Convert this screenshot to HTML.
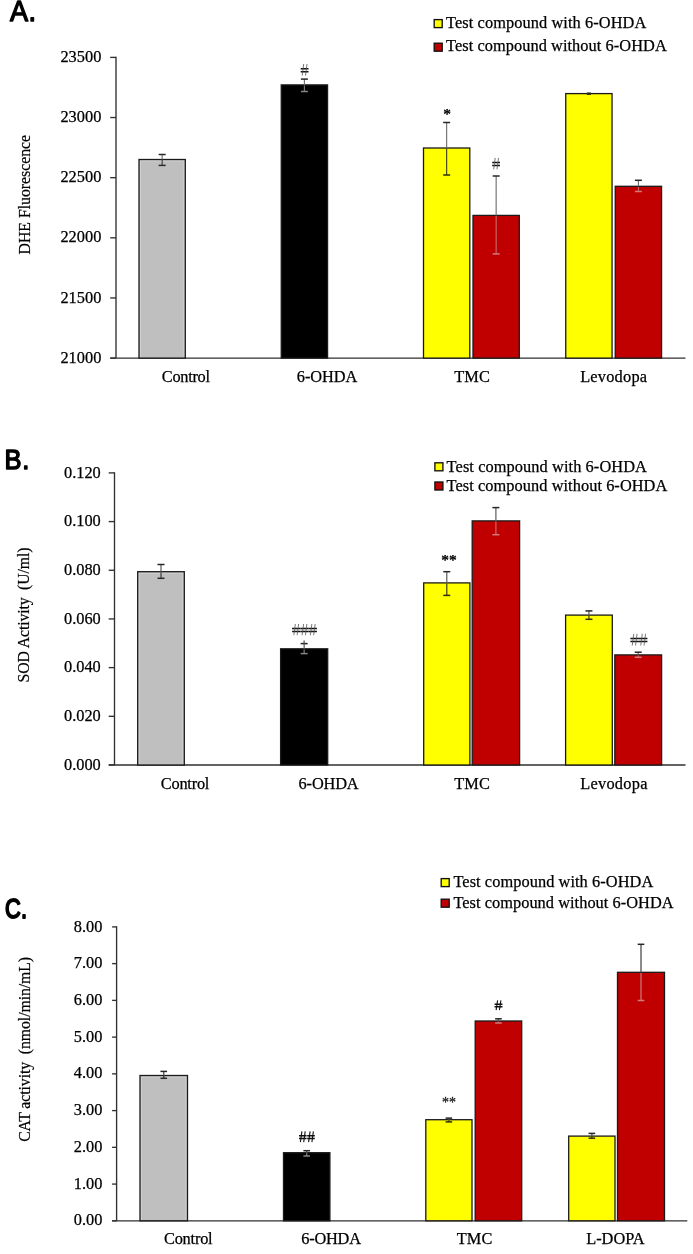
<!DOCTYPE html>
<html><head><meta charset="utf-8"><title>Figure</title>
<style>
html,body{margin:0;padding:0;background:#fff;}
body{width:693px;height:1254px;overflow:hidden;font-family:"Liberation Serif",serif;}
svg{display:block;will-change:transform;}
text{fill:#000;font-family:"Liberation Serif",serif;}
text.ttl{font-family:"Liberation Sans",sans-serif;}
</style></head><body>
<svg width="693" height="1254" viewBox="0 0 693 1254">
<rect width="693" height="1254" fill="#fff"/>
<text transform="translate(9.90 20.60) scale(0.94 1)" font-size="28.8" class="ttl" stroke="#000" stroke-width="1.4" stroke-linejoin="round" letter-spacing="0.6">A.</text>
<path d="M116 56.80V358.1M110.2 358.1H685.5" stroke="#303030" stroke-width="1.35" fill="none"/>
<path d="M110.2 57.40H116" stroke="#303030" stroke-width="1.35"/>
<text x="101.30" y="62.00" font-size="16.35" text-anchor="end" font-weight="normal" fill="#000" stroke="#000" stroke-width="0.25">23500</text>
<path d="M110.2 117.54H116" stroke="#303030" stroke-width="1.35"/>
<text x="101.30" y="122.14" font-size="16.35" text-anchor="end" font-weight="normal" fill="#000" stroke="#000" stroke-width="0.25">23000</text>
<path d="M110.2 177.68H116" stroke="#303030" stroke-width="1.35"/>
<text x="101.30" y="182.28" font-size="16.35" text-anchor="end" font-weight="normal" fill="#000" stroke="#000" stroke-width="0.25">22500</text>
<path d="M110.2 237.82H116" stroke="#303030" stroke-width="1.35"/>
<text x="101.30" y="242.42" font-size="16.35" text-anchor="end" font-weight="normal" fill="#000" stroke="#000" stroke-width="0.25">22000</text>
<path d="M110.2 297.96H116" stroke="#303030" stroke-width="1.35"/>
<text x="101.30" y="302.56" font-size="16.35" text-anchor="end" font-weight="normal" fill="#000" stroke="#000" stroke-width="0.25">21500</text>
<path d="M110.2 358.10H116" stroke="#303030" stroke-width="1.35"/>
<text x="101.30" y="362.70" font-size="16.35" text-anchor="end" font-weight="normal" fill="#000" stroke="#000" stroke-width="0.25">21000</text>
<text transform="translate(29.60 194.70) rotate(-90) scale(1 1.07)" font-size="15.8" text-anchor="middle" stroke="#000" stroke-width="0.2" textLength="119.6" lengthAdjust="spacing">DHE Fluorescence</text>
<rect x="139.00" y="159.50" width="46.30" height="198.60" fill="#BFBFBF"/>
<path d="M140.40 357.10V160.90H183.90V357.10" fill="none" stroke="#d2d2d2" stroke-width="1"/>
<rect x="139.00" y="159.50" width="46.30" height="198.60" fill="none" stroke="#1a1a1a" stroke-width="1.3"/>
<rect x="281.25" y="84.90" width="46.30" height="273.20" fill="#000000" stroke="#1a1a1a" stroke-width="1.3"/>
<rect x="423.50" y="148.00" width="46.30" height="210.10" fill="#FFFF00" stroke="#1a1a1a" stroke-width="1.3"/>
<rect x="473.00" y="215.40" width="46.30" height="142.70" fill="#C00000" stroke="#1a1a1a" stroke-width="1.3"/>
<rect x="565.75" y="93.60" width="46.30" height="264.50" fill="#FFFF00" stroke="#1a1a1a" stroke-width="1.3"/>
<rect x="615.25" y="186.30" width="46.30" height="171.80" fill="#C00000" stroke="#1a1a1a" stroke-width="1.3"/>
<path d="M162.15 154.50V159.50" stroke="#6a6a6a" stroke-width="1.1" fill="none"/>
<path d="M158.65 154.50h7" stroke="#262626" stroke-width="1.5" fill="none"/>
<path d="M162.15 160.10V165.40" stroke="#3c3c3c" stroke-width="1.1" fill="none"/>
<path d="M158.65 165.40h7" stroke="#2a2a2a" stroke-width="1.5" fill="none"/>
<path d="M304.40 79.10V84.90" stroke="#6a6a6a" stroke-width="1.1" fill="none"/>
<path d="M300.90 79.10h7" stroke="#262626" stroke-width="1.5" fill="none"/>
<path d="M304.40 85.50V91.50" stroke="#7e7e7e" stroke-width="1.1" fill="none"/>
<path d="M300.90 91.50h7" stroke="#858585" stroke-width="1.5" fill="none"/>
<path d="M446.65 122.50V148.00" stroke="#6a6a6a" stroke-width="1.1" fill="none"/>
<path d="M443.15 122.50h7" stroke="#262626" stroke-width="1.5" fill="none"/>
<path d="M446.65 148.60V175.00" stroke="#3a3a10" stroke-width="1.1" fill="none"/>
<path d="M443.15 175.00h7" stroke="#2e2e10" stroke-width="1.5" fill="none"/>
<path d="M496.15 176.00V215.40" stroke="#6a6a6a" stroke-width="1.1" fill="none"/>
<path d="M492.65 176.00h7" stroke="#262626" stroke-width="1.5" fill="none"/>
<path d="M496.15 216.00V253.90" stroke="#c86a6a" stroke-width="1.1" fill="none"/>
<path d="M492.65 253.90h7" stroke="#d07a7a" stroke-width="1.5" fill="none"/>
<path d="M588.90 93.20V93.60" stroke="#6a6a6a" stroke-width="1.1" fill="none"/>
<path d="M586.90 93.20h4" stroke="#262626" stroke-width="1.5" fill="none"/>
<path d="M588.90 94.20V94.20" stroke="#3a3a10" stroke-width="1.1" fill="none"/>
<path d="M586.90 94.20h4" stroke="#2e2e10" stroke-width="1.5" fill="none"/>
<path d="M638.40 180.30V186.30" stroke="#6a6a6a" stroke-width="1.1" fill="none"/>
<path d="M634.90 180.30h7" stroke="#262626" stroke-width="1.5" fill="none"/>
<path d="M638.40 186.90V191.50" stroke="#c86a6a" stroke-width="1.1" fill="none"/>
<path d="M634.90 191.50h7" stroke="#d07a7a" stroke-width="1.5" fill="none"/>
<path d="M300.70 68.64h7.8M300.70 71.66h7.8" stroke="#111" stroke-width="1.5" fill="none"/>
<path d="M302.20 75.60L303.70 64.00M305.50 75.60L307.00 64.00" stroke="#555" stroke-width="0.8" fill="none"/>
<text x="447.00" y="119.00" font-size="15.5" text-anchor="middle" font-weight="bold" fill="#000" stroke="#000" stroke-width="0.2">*</text>
<path d="M492.20 162.46h7.8M492.20 165.42h7.8" stroke="#111" stroke-width="1.5" fill="none"/>
<path d="M493.70 169.30L495.20 157.90M497.00 169.30L498.50 157.90" stroke="#555" stroke-width="0.8" fill="none"/>
<text x="185.90" y="382.00" font-size="16.35" text-anchor="middle" font-weight="normal" fill="#000" stroke="#000" stroke-width="0.25" textLength="48.2" lengthAdjust="spacing">Control</text>
<text x="327.00" y="382.00" font-size="16.35" text-anchor="middle" font-weight="normal" fill="#000" stroke="#000" stroke-width="0.25" textLength="60.4" lengthAdjust="spacing">6-OHDA</text>
<text x="472.10" y="382.00" font-size="16.35" text-anchor="middle" font-weight="normal" fill="#000" stroke="#000" stroke-width="0.25" textLength="35.6" lengthAdjust="spacing">TMC</text>
<text x="613.60" y="382.00" font-size="16.35" text-anchor="middle" font-weight="normal" fill="#000" stroke="#000" stroke-width="0.25" textLength="66.9" lengthAdjust="spacing">Levodopa</text>
<rect x="434.20" y="19.60" width="8" height="8" fill="#FFFF00" stroke="#111" stroke-width="1.35"/>
<rect x="434.20" y="43.20" width="8" height="8" fill="#C00000" stroke="#111" stroke-width="1.35"/>
<text x="446.00" y="27.70" font-size="16.35" text-anchor="start" font-weight="normal" fill="#000" stroke="#000" stroke-width="0.25" textLength="200.3" lengthAdjust="spacing">Test compound with 6-OHDA</text>
<text x="446.00" y="51.30" font-size="16.35" text-anchor="start" font-weight="normal" fill="#000" stroke="#000" stroke-width="0.25" textLength="220.7" lengthAdjust="spacing">Test compound without 6-OHDA</text>
<text transform="translate(4.60 468.80) scale(0.9 1)" font-size="28.4" class="ttl" stroke="#000" stroke-width="1.5" stroke-linejoin="round" letter-spacing="0.6">B.</text>
<path d="M114.5 472.30V765.0M108.7 765.0H685.5" stroke="#303030" stroke-width="1.35" fill="none"/>
<path d="M108.7 472.90H114.5" stroke="#303030" stroke-width="1.35"/>
<text x="100.80" y="477.50" font-size="16.35" text-anchor="end" font-weight="normal" fill="#000" stroke="#000" stroke-width="0.25">0.120</text>
<path d="M108.7 521.58H114.5" stroke="#303030" stroke-width="1.35"/>
<text x="100.80" y="526.18" font-size="16.35" text-anchor="end" font-weight="normal" fill="#000" stroke="#000" stroke-width="0.25">0.100</text>
<path d="M108.7 570.26H114.5" stroke="#303030" stroke-width="1.35"/>
<text x="100.80" y="574.86" font-size="16.35" text-anchor="end" font-weight="normal" fill="#000" stroke="#000" stroke-width="0.25">0.080</text>
<path d="M108.7 618.94H114.5" stroke="#303030" stroke-width="1.35"/>
<text x="100.80" y="623.54" font-size="16.35" text-anchor="end" font-weight="normal" fill="#000" stroke="#000" stroke-width="0.25">0.060</text>
<path d="M108.7 667.62H114.5" stroke="#303030" stroke-width="1.35"/>
<text x="100.80" y="672.22" font-size="16.35" text-anchor="end" font-weight="normal" fill="#000" stroke="#000" stroke-width="0.25">0.040</text>
<path d="M108.7 716.30H114.5" stroke="#303030" stroke-width="1.35"/>
<text x="100.80" y="720.90" font-size="16.35" text-anchor="end" font-weight="normal" fill="#000" stroke="#000" stroke-width="0.25">0.020</text>
<path d="M108.7 764.98H114.5" stroke="#303030" stroke-width="1.35"/>
<text x="100.80" y="769.58" font-size="16.35" text-anchor="end" font-weight="normal" fill="#000" stroke="#000" stroke-width="0.25">0.000</text>
<text transform="translate(29.40 615.00) rotate(-90) scale(1 1.07)" font-size="15.8" text-anchor="middle" stroke="#000" stroke-width="0.2" textLength="135" lengthAdjust="spacing">SOD Activity&#160;&#160;(U/ml)</text>
<rect x="137.70" y="571.70" width="46.60" height="193.30" fill="#BFBFBF"/>
<path d="M139.10 764.00V573.10H182.90V764.00" fill="none" stroke="#d2d2d2" stroke-width="1"/>
<rect x="137.70" y="571.70" width="46.60" height="193.30" fill="none" stroke="#1a1a1a" stroke-width="1.3"/>
<rect x="280.60" y="648.80" width="47.10" height="116.20" fill="#000000" stroke="#1a1a1a" stroke-width="1.3"/>
<rect x="423.70" y="582.90" width="46.20" height="182.10" fill="#FFFF00" stroke="#1a1a1a" stroke-width="1.3"/>
<rect x="472.20" y="520.90" width="47.40" height="244.10" fill="#C00000" stroke="#1a1a1a" stroke-width="1.3"/>
<rect x="565.60" y="615.10" width="46.70" height="149.90" fill="#FFFF00" stroke="#1a1a1a" stroke-width="1.3"/>
<rect x="614.80" y="654.90" width="46.80" height="110.10" fill="#C00000" stroke="#1a1a1a" stroke-width="1.3"/>
<path d="M161.00 564.50V571.70" stroke="#5a5a5a" stroke-width="1.2" fill="none"/>
<path d="M157.50 564.50h7.0" stroke="#262626" stroke-width="1.5" fill="none"/>
<path d="M161.00 572.30V578.30" stroke="#3c3c3c" stroke-width="1.2" fill="none"/>
<path d="M157.50 578.30h7.0" stroke="#2a2a2a" stroke-width="1.5" fill="none"/>
<path d="M304.15 643.60V648.80" stroke="#5a5a5a" stroke-width="1.2" fill="none"/>
<path d="M300.65 643.60h7.0" stroke="#262626" stroke-width="1.5" fill="none"/>
<path d="M304.15 649.40V653.60" stroke="#7e7e7e" stroke-width="1.2" fill="none"/>
<path d="M300.65 653.60h7.0" stroke="#858585" stroke-width="1.5" fill="none"/>
<path d="M446.80 571.70V582.90" stroke="#5a5a5a" stroke-width="1.2" fill="none"/>
<path d="M443.30 571.70h7.0" stroke="#262626" stroke-width="1.5" fill="none"/>
<path d="M446.80 583.50V595.40" stroke="#3a3a10" stroke-width="1.2" fill="none"/>
<path d="M443.30 595.40h7.0" stroke="#2e2e10" stroke-width="1.5" fill="none"/>
<path d="M495.90 507.60V520.90" stroke="#5a5a5a" stroke-width="1.2" fill="none"/>
<path d="M492.40 507.60h7.0" stroke="#262626" stroke-width="1.5" fill="none"/>
<path d="M495.90 521.50V534.70" stroke="#c86a6a" stroke-width="1.2" fill="none"/>
<path d="M492.40 534.70h7.0" stroke="#d07a7a" stroke-width="1.5" fill="none"/>
<path d="M588.95 610.90V615.10" stroke="#5a5a5a" stroke-width="1.2" fill="none"/>
<path d="M585.45 610.90h7.0" stroke="#262626" stroke-width="1.5" fill="none"/>
<path d="M588.95 615.70V619.30" stroke="#3a3a10" stroke-width="1.2" fill="none"/>
<path d="M585.45 619.30h7.0" stroke="#2e2e10" stroke-width="1.5" fill="none"/>
<path d="M638.20 652.20V654.90" stroke="#5a5a5a" stroke-width="1.2" fill="none"/>
<path d="M634.70 652.20h7.0" stroke="#262626" stroke-width="1.5" fill="none"/>
<path d="M638.20 655.50V657.30" stroke="#c86a6a" stroke-width="1.2" fill="none"/>
<path d="M634.70 657.30h7.0" stroke="#d07a7a" stroke-width="1.5" fill="none"/>
<path d="M304.1 640.5V644" stroke="#4a4a4a" stroke-width="1.2"/>
<path d="M292.10 628.48h8.27M292.10 631.39h8.27" stroke="#111" stroke-width="1.5" fill="none"/>
<path d="M293.83 635.20L295.33 624.00M297.13 635.20L298.63 624.00" stroke="#555" stroke-width="0.8" fill="none"/>
<path d="M300.37 628.48h8.27M300.37 631.39h8.27" stroke="#111" stroke-width="1.5" fill="none"/>
<path d="M302.10 635.20L303.60 624.00M305.40 635.20L306.90 624.00" stroke="#555" stroke-width="0.8" fill="none"/>
<path d="M308.64 628.48h8.27M308.64 631.39h8.27" stroke="#111" stroke-width="1.5" fill="none"/>
<path d="M310.37 635.20L311.87 624.00M313.67 635.20L315.17 624.00" stroke="#555" stroke-width="0.8" fill="none"/>
<text x="449.00" y="565.00" font-size="15.5" text-anchor="middle" font-weight="bold" fill="#000" stroke="#000" stroke-width="0.2">**</text>
<path d="M630.40 638.48h8.5M630.40 641.52h8.5" stroke="#111" stroke-width="1.5" fill="none"/>
<path d="M632.25 645.50L633.75 633.80M635.55 645.50L637.05 633.80" stroke="#555" stroke-width="0.8" fill="none"/>
<path d="M638.90 638.48h8.5M638.90 641.52h8.5" stroke="#111" stroke-width="1.5" fill="none"/>
<path d="M640.75 645.50L642.25 633.80M644.05 645.50L645.55 633.80" stroke="#555" stroke-width="0.8" fill="none"/>
<text x="185.10" y="789.10" font-size="16.35" text-anchor="middle" font-weight="normal" fill="#000" stroke="#000" stroke-width="0.25" textLength="48.5" lengthAdjust="spacing">Control</text>
<text x="328.60" y="789.10" font-size="16.35" text-anchor="middle" font-weight="normal" fill="#000" stroke="#000" stroke-width="0.25" textLength="60.0" lengthAdjust="spacing">6-OHDA</text>
<text x="472.10" y="789.10" font-size="16.35" text-anchor="middle" font-weight="normal" fill="#000" stroke="#000" stroke-width="0.25" textLength="35.6" lengthAdjust="spacing">TMC</text>
<text x="613.80" y="789.10" font-size="16.35" text-anchor="middle" font-weight="normal" fill="#000" stroke="#000" stroke-width="0.25" textLength="67.3" lengthAdjust="spacing">Levodopa</text>
<rect x="434.90" y="462.80" width="8" height="8" fill="#FFFF00" stroke="#111" stroke-width="1.35"/>
<rect x="434.90" y="482.00" width="8" height="8" fill="#C00000" stroke="#111" stroke-width="1.35"/>
<text x="446.60" y="471.60" font-size="16.35" text-anchor="start" font-weight="normal" fill="#000" stroke="#000" stroke-width="0.25" textLength="200.3" lengthAdjust="spacing">Test compound with 6-OHDA</text>
<text x="446.60" y="490.60" font-size="16.35" text-anchor="start" font-weight="normal" fill="#000" stroke="#000" stroke-width="0.25" textLength="220.7" lengthAdjust="spacing">Test compound without 6-OHDA</text>
<text transform="translate(4.90 917.60) scale(0.79 1)" font-size="27.6" class="ttl" stroke="#000" stroke-width="1.9" stroke-linejoin="round" letter-spacing="0.6">C.</text>
<path d="M116.6 926.30V1220.8M112.1 1220.8H687.3" stroke="#303030" stroke-width="1.35" fill="none"/>
<path d="M112.1 926.90H116.6" stroke="#303030" stroke-width="1.35"/>
<text x="102.40" y="931.50" font-size="16.35" text-anchor="end" font-weight="normal" fill="#000" stroke="#000" stroke-width="0.25">8.00</text>
<path d="M112.1 963.64H116.6" stroke="#303030" stroke-width="1.35"/>
<text x="102.40" y="968.24" font-size="16.35" text-anchor="end" font-weight="normal" fill="#000" stroke="#000" stroke-width="0.25">7.00</text>
<path d="M112.1 1000.38H116.6" stroke="#303030" stroke-width="1.35"/>
<text x="102.40" y="1004.98" font-size="16.35" text-anchor="end" font-weight="normal" fill="#000" stroke="#000" stroke-width="0.25">6.00</text>
<path d="M112.1 1037.12H116.6" stroke="#303030" stroke-width="1.35"/>
<text x="102.40" y="1041.72" font-size="16.35" text-anchor="end" font-weight="normal" fill="#000" stroke="#000" stroke-width="0.25">5.00</text>
<path d="M112.1 1073.86H116.6" stroke="#303030" stroke-width="1.35"/>
<text x="102.40" y="1078.46" font-size="16.35" text-anchor="end" font-weight="normal" fill="#000" stroke="#000" stroke-width="0.25">4.00</text>
<path d="M112.1 1110.60H116.6" stroke="#303030" stroke-width="1.35"/>
<text x="102.40" y="1115.20" font-size="16.35" text-anchor="end" font-weight="normal" fill="#000" stroke="#000" stroke-width="0.25">3.00</text>
<path d="M112.1 1147.34H116.6" stroke="#303030" stroke-width="1.35"/>
<text x="102.40" y="1151.94" font-size="16.35" text-anchor="end" font-weight="normal" fill="#000" stroke="#000" stroke-width="0.25">2.00</text>
<path d="M112.1 1184.08H116.6" stroke="#303030" stroke-width="1.35"/>
<text x="102.40" y="1188.68" font-size="16.35" text-anchor="end" font-weight="normal" fill="#000" stroke="#000" stroke-width="0.25">1.00</text>
<path d="M112.1 1220.82H116.6" stroke="#303030" stroke-width="1.35"/>
<text x="102.40" y="1225.42" font-size="16.35" text-anchor="end" font-weight="normal" fill="#000" stroke="#000" stroke-width="0.25">0.00</text>
<text transform="translate(29.50 1049.35) rotate(-90) scale(1 1.07)" font-size="15.8" text-anchor="middle" stroke="#000" stroke-width="0.2" textLength="185" lengthAdjust="spacing">CAT activity&#160;&#160;(nmol/min/mL)</text>
<rect x="140.00" y="1075.50" width="47.50" height="145.30" fill="#BFBFBF"/>
<path d="M141.40 1219.80V1076.90H186.10V1219.80" fill="none" stroke="#d2d2d2" stroke-width="1"/>
<rect x="140.00" y="1075.50" width="47.50" height="145.30" fill="none" stroke="#1a1a1a" stroke-width="1.3"/>
<rect x="283.50" y="1152.70" width="46.40" height="68.10" fill="#000000" stroke="#1a1a1a" stroke-width="1.3"/>
<rect x="425.80" y="1119.70" width="46.20" height="101.10" fill="#FFFF00" stroke="#1a1a1a" stroke-width="1.3"/>
<rect x="475.20" y="1021.00" width="46.50" height="199.80" fill="#C00000" stroke="#1a1a1a" stroke-width="1.3"/>
<rect x="568.70" y="1136.10" width="46.30" height="84.70" fill="#FFFF00" stroke="#1a1a1a" stroke-width="1.3"/>
<rect x="617.50" y="972.30" width="47.00" height="248.50" fill="#C00000" stroke="#1a1a1a" stroke-width="1.3"/>
<path d="M163.75 1071.40V1075.50" stroke="#5a5a5a" stroke-width="1.4" fill="none"/>
<path d="M160.45 1071.40h6.6" stroke="#262626" stroke-width="1.5" fill="none"/>
<path d="M163.75 1076.10V1078.30" stroke="#3c3c3c" stroke-width="1.4" fill="none"/>
<path d="M160.45 1078.30h6.6" stroke="#2a2a2a" stroke-width="1.5" fill="none"/>
<path d="M306.70 1150.70V1152.70" stroke="#5a5a5a" stroke-width="1.4" fill="none"/>
<path d="M303.40 1150.70h6.6" stroke="#262626" stroke-width="1.5" fill="none"/>
<path d="M306.70 1153.30V1156.00" stroke="#7e7e7e" stroke-width="1.4" fill="none"/>
<path d="M303.40 1156.00h6.6" stroke="#858585" stroke-width="1.5" fill="none"/>
<path d="M448.90 1118.10V1119.70" stroke="#5a5a5a" stroke-width="1.4" fill="none"/>
<path d="M445.60 1118.10h6.6" stroke="#262626" stroke-width="1.5" fill="none"/>
<path d="M448.90 1120.30V1121.90" stroke="#3a3a10" stroke-width="1.4" fill="none"/>
<path d="M445.60 1121.90h6.6" stroke="#2e2e10" stroke-width="1.5" fill="none"/>
<path d="M498.45 1018.80V1021.00" stroke="#5a5a5a" stroke-width="1.4" fill="none"/>
<path d="M495.15 1018.80h6.6" stroke="#262626" stroke-width="1.5" fill="none"/>
<path d="M498.45 1021.60V1023.00" stroke="#c86a6a" stroke-width="1.4" fill="none"/>
<path d="M495.15 1023.00h6.6" stroke="#d07a7a" stroke-width="1.5" fill="none"/>
<path d="M591.85 1133.40V1136.10" stroke="#5a5a5a" stroke-width="1.4" fill="none"/>
<path d="M588.55 1133.40h6.6" stroke="#262626" stroke-width="1.5" fill="none"/>
<path d="M591.85 1136.70V1138.20" stroke="#3a3a10" stroke-width="1.4" fill="none"/>
<path d="M588.55 1138.20h6.6" stroke="#2e2e10" stroke-width="1.5" fill="none"/>
<path d="M641.00 944.30V972.30" stroke="#5a5a5a" stroke-width="1.4" fill="none"/>
<path d="M637.70 944.30h6.6" stroke="#262626" stroke-width="1.5" fill="none"/>
<path d="M641.00 972.90V1000.50" stroke="#c86a6a" stroke-width="1.4" fill="none"/>
<path d="M637.70 1000.50h6.6" stroke="#d07a7a" stroke-width="1.5" fill="none"/>
<path d="M299.00 1135.68h7.6M299.00 1138.46h7.6" stroke="#111" stroke-width="1.5" fill="none"/>
<path d="M300.40 1142.10L301.90 1131.40M303.70 1142.10L305.20 1131.40" stroke="#111" stroke-width="1.1" fill="none"/>
<path d="M307.20 1135.68h7.6M307.20 1138.46h7.6" stroke="#111" stroke-width="1.5" fill="none"/>
<path d="M308.60 1142.10L310.10 1131.40M311.90 1142.10L313.40 1131.40" stroke="#111" stroke-width="1.1" fill="none"/>
<text x="448.90" y="1107.30" font-size="14" text-anchor="middle" font-weight="normal" fill="#333" stroke="#333" stroke-width="0.3">**</text>
<path d="M494.55 1004.28h7.9M494.55 1006.80h7.9" stroke="#111" stroke-width="1.5" fill="none"/>
<path d="M496.10 1010.10L497.60 1000.40M499.40 1010.10L500.90 1000.40" stroke="#111" stroke-width="1.1" fill="none"/>
<text x="188.30" y="1244.40" font-size="16.35" text-anchor="middle" font-weight="normal" fill="#000" stroke="#000" stroke-width="0.25" textLength="48.7" lengthAdjust="spacing">Control</text>
<text x="331.10" y="1244.40" font-size="16.35" text-anchor="middle" font-weight="normal" fill="#000" stroke="#000" stroke-width="0.25" textLength="59.9" lengthAdjust="spacing">6-OHDA</text>
<text x="474.60" y="1244.40" font-size="16.35" text-anchor="middle" font-weight="normal" fill="#000" stroke="#000" stroke-width="0.25" textLength="35.6" lengthAdjust="spacing">TMC</text>
<text x="615.40" y="1244.40" font-size="16.35" text-anchor="middle" font-weight="normal" fill="#000" stroke="#000" stroke-width="0.25" textLength="58.5" lengthAdjust="spacing">L-DOPA</text>
<rect x="441.20" y="878.60" width="8" height="8" fill="#FFFF00" stroke="#111" stroke-width="1.35"/>
<rect x="441.20" y="899.20" width="8" height="8" fill="#C00000" stroke="#111" stroke-width="1.35"/>
<text x="453.40" y="887.10" font-size="16.35" text-anchor="start" font-weight="normal" fill="#000" stroke="#000" stroke-width="0.25" textLength="199.8" lengthAdjust="spacing">Test compound with 6-OHDA</text>
<text x="453.40" y="907.70" font-size="16.35" text-anchor="start" font-weight="normal" fill="#000" stroke="#000" stroke-width="0.25" textLength="220.2" lengthAdjust="spacing">Test compound without 6-OHDA</text>
</svg>
</body></html>
